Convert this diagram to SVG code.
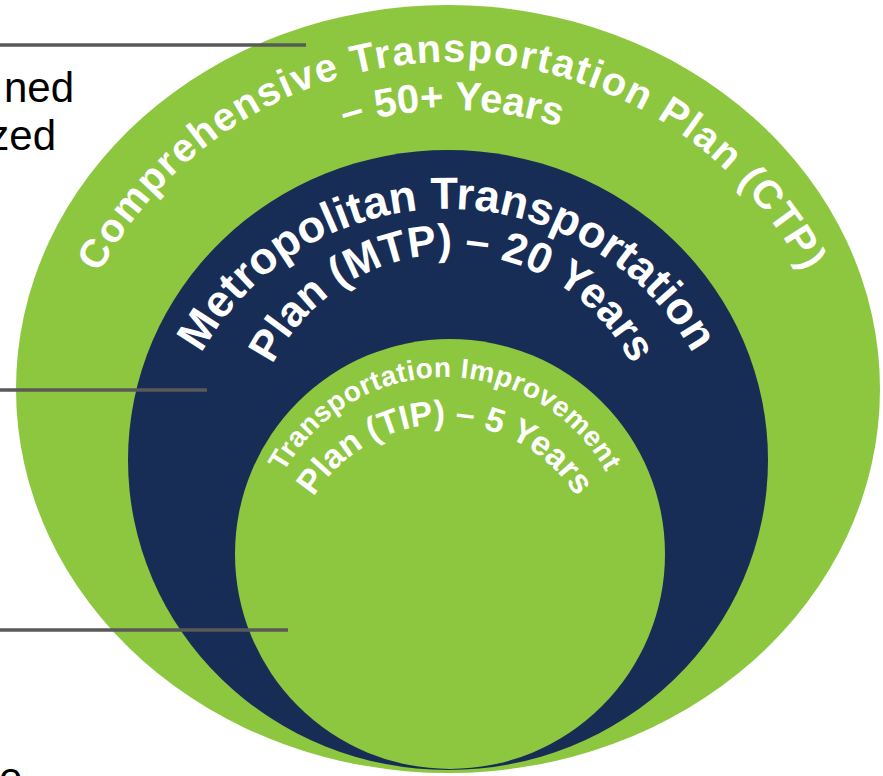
<svg xmlns="http://www.w3.org/2000/svg" xmlns:xlink="http://www.w3.org/1999/xlink" width="883" height="776" viewBox="0 0 883 776">
<style>
.green{fill:#8DC63F}
.navy{fill:#182D56}
.arc{font-family:"Liberation Sans",Arial,sans-serif;font-weight:bold;fill:#FFFFFF}
.lbl{font-family:"Liberation Sans",Arial,sans-serif;font-size:42px;fill:#000000}
.lead{stroke:#595959;stroke-width:3.5;fill:none}
</style>
<defs>
<path id="p-ctp1" d="M76.1,325.2 A400,400 0 0 1 827.9,325.2"/>
<path id="p-ctp2" d="M147.2,286 A352,352 0 0 1 756.8,286"/>
<path id="p-mtp1" d="M182.9,393.9 A281,281 0 0 1 711.1,393.9"/>
<path id="p-mtp2" d="M263.1,386.3 A201,201 0 0 1 640.9,386.3"/>
<path id="p-tip1" d="M267.3,513.4 A184,184 0 0 1 622.7,513.4"/>
<path id="p-tip2" d="M295.3,538.9 A155,155 0 0 1 594.7,538.9"/>
</defs>
<rect width="883" height="776" fill="#FFFFFF"/>
<g id="ctp">
<ellipse class="green" cx="448" cy="389" rx="432" ry="384"/>
<text class="arc" font-size="40" letter-spacing="1.5"><textPath xlink:href="#p-ctp1" href="#p-ctp1" startOffset="50%" text-anchor="middle">Comprehensive Transportation Plan (CTP)</textPath></text>
<text class="arc" font-size="40"><textPath xlink:href="#p-ctp2" href="#p-ctp2" startOffset="50%" text-anchor="middle">– 50+ Years</textPath></text>
</g>
<g id="mtp">
<ellipse class="navy" cx="448" cy="460" rx="320" ry="310"/>
<text class="arc" font-size="45"><textPath xlink:href="#p-mtp1" href="#p-mtp1" startOffset="50%" text-anchor="middle">Metropolitan Transportation</textPath></text>
<text class="arc" font-size="43"><textPath xlink:href="#p-mtp2" href="#p-mtp2" startOffset="50%" text-anchor="middle">Plan (MTP) – 20 Years</textPath></text>
</g>
<g id="tip">
<circle class="green" cx="450" cy="554" r="215"/>
<text class="arc" font-size="28" letter-spacing="0.5"><textPath xlink:href="#p-tip1" href="#p-tip1" startOffset="50%" text-anchor="middle">Transportation Improvement</textPath></text>
<text class="arc" font-size="34"><textPath xlink:href="#p-tip2" href="#p-tip2" startOffset="50%" text-anchor="middle">Plan (TIP) – 5 Years</textPath></text>
</g>
<g id="labels">
<text class="lbl" x="74" y="102" text-anchor="end">ned</text>
<text class="lbl" x="56" y="150" text-anchor="end">zed</text>
<text class="lbl" x="-1" y="792">e</text>
</g>
<g id="connectors">
<line class="lead" x1="0" y1="45" x2="306" y2="45"/>
<line class="lead" x1="0" y1="390" x2="207" y2="390"/>
<line class="lead" x1="0" y1="630" x2="288" y2="630"/>
</g>
</svg>
